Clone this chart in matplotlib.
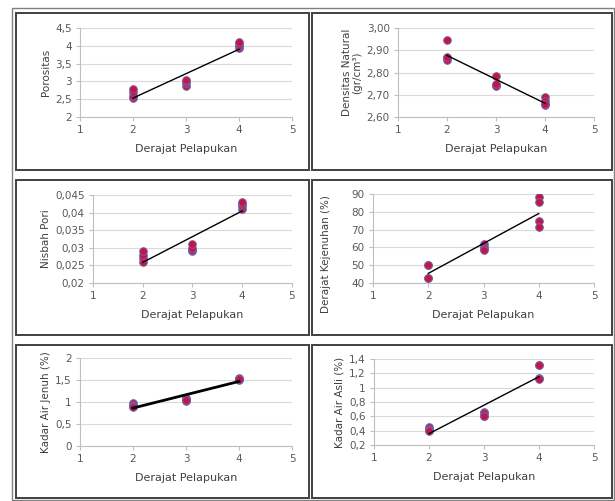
import numpy as np
import matplotlib
matplotlib.use('Agg')
import matplotlib.pyplot as plt
from matplotlib.patches import Rectangle
from matplotlib.ticker import FuncFormatter

# derajat pelapukan (x) for every sample
derajat = [2, 2, 2, 2, 3, 3, 3, 3, 4, 4, 4, 4]

porositas = [2.52, 2.60, 2.70, 2.80, 2.88, 2.95, 3.00, 3.05, 3.95, 4.00, 4.05, 4.10]
densitas = [2.945, 2.865, 2.855, 2.870, 2.785, 2.745, 2.740, 2.750, 2.690, 2.670, 2.655, 2.660]
nisbah_pori = [0.026, 0.027, 0.028, 0.029, 0.029, 0.0295, 0.030, 0.031, 0.041, 0.042, 0.0425, 0.043]
kejenuhan = [50, 50, 43, 43, 62, 60.5, 59, 58.5, 88.5, 85.5, 75, 71.5]
air_jenuh = [0.97, 0.93, 0.90, 0.88, 1.08, 1.05, 1.03, 1.04, 1.55, 1.52, 1.50, 1.53]
air_asli = [0.45, 0.43, 0.41, 0.40, 0.66, 0.64, 0.61, 0.60, 1.31, 1.31, 1.13, 1.12]

W, H = 615, 501
fig = plt.figure(figsize=(W / 100, H / 100), dpi=100)
plt.rcParams['font.family'] = 'DejaVu Sans'


def px_axes(x0, y0, x1, y1):
    return fig.add_axes([x0 / W, 1 - y1 / H, (x1 - x0) / W, (y1 - y0) / H])


def box(x0, y0, x1, y1, lw=1.4, color='#404040'):
    fig.patches.append(Rectangle((x0 / W, 1 - y1 / H), (x1 - x0) / W, (y1 - y0) / H,
                                 transform=fig.transFigure, fill=False,
                                 edgecolor=color, lw=lw))


def comma(fmt):
    return FuncFormatter(lambda v, p: (fmt % v).replace('.', ','))


# outer frame and panel frames
box(12, 8, 614, 500, lw=1.0, color='#808080')
rows = [(13, 170), (180, 335), (345, 498)]
cols = [(16, 309), (312, 612)]
for (ya, yb) in rows:
    for (xa, xb) in cols:
        box(xa, ya, xb, yb)

panels = [
    ((80, 28, 292, 117), porositas, 'Porositas', (2, 4.5, 0.5), '%g', 1.0),
    ((398, 28, 594, 117), densitas, 'Densitas Natural\n(gr/cm³)', (2.6, 3.0, 0.1), '%.2f', 1.0),
    ((93, 195, 292, 283), nisbah_pori, 'Nisbah Pori', (0.02, 0.045, 0.005), '%g', 1.0),
    ((373, 194, 594, 283), kejenuhan, 'Derajat Kejenuhan (%)', (40, 90, 10), '%g', 1.0),
    ((80, 358, 292, 446), air_jenuh, 'Kadar Air Jenuh (%)', (0, 2, 0.5), '%g', 2.0),
    ((374, 359, 594, 445), air_asli, 'Kadar Air Asli (%)', (0.2, 1.4, 0.2), '%g', 1.0),
]

axes = []
for pos, y, ylab, (ymin, ymax, step), fmt, tlw in panels:
    ax = px_axes(*pos)
    ax.scatter(derajat, y, s=30, color='#C8143C', edgecolor='#7060B0', lw=0.7, zorder=3)
    k, b = np.polyfit(derajat, y, 1)
    xs = np.array([min(derajat), max(derajat)])
    ax.plot(xs, k * xs + b, color='black', lw=tlw, zorder=4)
    ax.set_xlim(1, 5)
    ax.set_ylim(ymin, ymax)
    ax.set_xticks([1, 2, 3, 4, 5])
    ax.set_yticks(np.round(np.arange(ymin, ymax + step / 2, step), 4))
    ax.yaxis.set_major_formatter(comma(fmt))
    ax.grid(axis='y', color='#d9d9d9', lw=0.8)
    ax.set_axisbelow(True)
    for s in ['top', 'right']:
        ax.spines[s].set_visible(False)
    for s in ['left', 'bottom']:
        ax.spines[s].set_color('#bfbfbf')
        ax.spines[s].set_linewidth(0.8)
    ax.tick_params(colors='#bfbfbf', labelcolor='#595959', labelsize=7.5,
                   length=3, width=0.8, pad=3)
    ax.set_xlabel('Derajat Pelapukan', fontsize=8, color='#404040', labelpad=6)
    ax.set_ylabel(ylab, fontsize=7.5, color='#404040', labelpad=3, linespacing=1.0)
    axes.append(ax)

# the saturation label sits lower than its axis in the original
axes[3].yaxis.set_label_coords(-0.19, 0.33)

fig.savefig('out.png', dpi=100)
